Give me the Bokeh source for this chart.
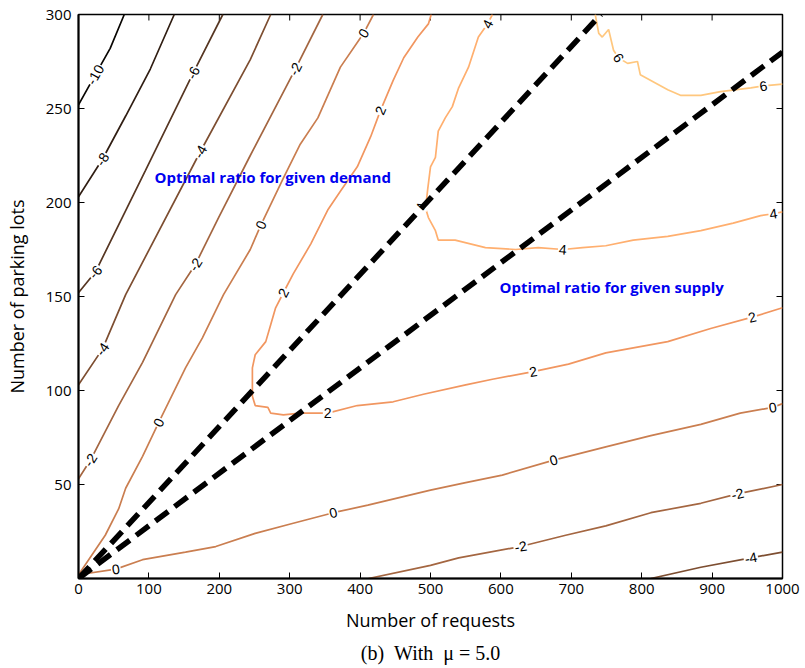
import math
from bokeh.plotting import figure
from bokeh.models import FixedTicker, Title, ColumnDataSource, Range1d
from bokeh.core.properties import value
from bokeh.embed import file_html
from bokeh.resources import INLINE

# ---------------- data ----------------
x_ticks = [0, 100, 200, 300, 400, 500, 600, 700, 800, 900, 1000]
y_ticks = [50, 100, 150, 200, 250, 300]

# contour lines (level, x = number of requests, y = number of parking lots)
m10_x = [0, 24, 45, 65]
m10_y = [252, 268, 282, 300]

m8_x = [0, 34, 67, 102, 136]
m8_y = [203, 223, 246, 271, 300]

m6_x = [0, 24, 95, 163, 205]
m6_y = [152, 163, 217, 269, 300]

m4a_x = [0, 34, 67, 173, 244, 273]
m4a_y = [103, 122, 151, 227, 276, 300]

m2a_x = [0, 17, 57, 91, 138, 166, 199, 244, 308, 347]
m2a_y = [53, 63, 92, 115, 151, 167, 192, 225, 271, 300]

z0a_x = [0, 38, 57, 67, 91, 114, 152, 176, 206, 244, 259, 291, 315, 340, 372, 405, 419]
z0a_y = [2, 23, 37, 48, 65, 83, 112, 128, 151, 175, 188, 213, 231, 245, 272, 290, 300]

p2_x = [501, 497, 482, 462, 447, 429, 415, 396, 372, 354, 330, 305, 291, 280, 273, 266, 251,
        247, 247, 251, 269, 273, 291, 315, 354, 396, 447, 490, 550, 588, 646, 696, 749, 837,
        898, 957, 1000]
p2_y = [300, 295, 288, 277, 265, 249, 235, 219, 206, 196, 178, 162, 152, 144, 135, 126, 119,
        112, 97, 92, 91, 88, 87, 88, 88, 92, 94, 98, 103, 106, 110, 114, 120, 126,
        133, 139, 144]

p4_x = [588, 581, 568, 554, 540, 531, 521, 511, 507, 500, 496, 493, 497, 507, 511, 535, 578,
        621, 653, 688, 716, 749, 788, 837, 884, 930, 969, 987, 1000]
p4_y = [300, 295, 288, 272, 261, 251, 245, 238, 224, 219, 207, 197, 192, 185, 180, 180, 176,
        175, 176, 175, 176, 177, 180, 182, 185, 189, 193, 194, 195]

p6_x = [734, 739, 744, 753, 760, 767, 780, 794, 798, 837, 855, 884, 912, 955, 973, 1000]
p6_y = [300, 290, 288, 292, 281, 277, 274, 275, 268, 260, 257, 257, 259, 261, 262, 263]

z0b_x = [0, 53, 91, 152, 195, 251, 301, 362, 411, 500, 550, 602, 675, 749, 813, 884, 940, 986, 1000]
z0b_y = [2, 5, 10, 14, 17, 24, 29, 35, 39, 47, 51, 55, 63, 70, 76, 82, 88, 91, 93]

m2b_x = [412, 500, 540, 628, 692, 749, 813, 884, 936, 1000]
m2b_y = [0, 7, 11, 17, 23, 28, 35, 40, 45, 50]

m4b_x = [813, 884, 955, 1000]
m4b_y = [0, 6, 11, 14]

contour_levels = [-10, -8, -6, -4, -2, 0, 2, 4, 6, 0, -2, -4]
contour_xs = [m10_x, m8_x, m6_x, m4a_x, m2a_x, z0a_x, p2_x, p4_x, p6_x, z0b_x, m2b_x, m4b_x]
contour_ys = [m10_y, m8_y, m6_y, m4a_y, m2a_y, z0a_y, p2_y, p4_y, p6_y, z0b_y, m2b_y, m4b_y]

# contour labels
lab_x = [24, 34, 163, 24, 173, 34, 308, 166, 17, 405, 259, 114, 429, 291, 354, 646, 957,
         581, 487, 688, 987, 767, 973, 53, 362, 675, 986, 628, 936, 955]
lab_y = [268, 223, 269, 163, 227, 122, 271, 167, 63, 290, 188, 83, 249, 152, 88, 110, 139,
         295, 198, 175, 194, 277, 262, 5, 35, 63, 91, 17, 45, 11]
lab_level = [-10, -8, -6, -6, -4, -4, -2, -2, -2, 0, 0, 0, 2, 2, 2, 2, 2,
             4, 4, 4, 4, 6, 6, 0, 0, 0, 0, -2, -2, -4]

# optimal ratio lines
demand_x = [0, 742]
demand_y = [0, 300]
supply_x = [0, 1000]
supply_y = [0, 280]

# ---------------- helpers ----------------
def copper(level):
    t = (level + 10.5) / 16.5
    t = max(0.0, min(1.0, t))
    r = min(1.0, 1.25 * t)
    g = 0.7812 * t
    b = 0.4975 * t
    return "#%02x%02x%02x" % (int(r * 255), int(g * 255), int(b * 255))

SX = 704 / 1000.0   # px per data unit (x)
SY = 564 / 300.0    # px per data unit (y)

def label_angle(lx, ly, level):
    best = None
    for lv, xs, ys in zip(contour_levels, contour_xs, contour_ys):
        if lv != level:
            continue
        for i in range(len(xs) - 1):
            ax, ay = xs[i] * SX, ys[i] * SY
            bx, by = xs[i + 1] * SX, ys[i + 1] * SY
            px, py = lx * SX, ly * SY
            dx, dy = bx - ax, by - ay
            L2 = dx * dx + dy * dy
            if L2 == 0:
                continue
            t = max(0.0, min(1.0, ((px - ax) * dx + (py - ay) * dy) / L2))
            d = math.hypot(ax + t * dx - px, ay + t * dy - py)
            if best is None or d < best[0]:
                best = (d, dx, dy)
    ang = math.atan2(best[2], best[1])
    if ang > math.pi / 2:
        ang -= math.pi
    if ang < -math.pi / 2:
        ang += math.pi
    return ang

# ---------------- figure ----------------
p = figure(width=805, height=668, x_range=Range1d(0, 1000), y_range=Range1d(0, 300),
           output_backend="svg", toolbar_location=None,
           min_border_left=78, min_border_right=23, min_border_top=14, min_border_bottom=90)
p.xgrid.visible = False
p.ygrid.visible = False
p.outline_line_color = "black"
p.outline_line_width = 1.5
p.background_fill_color = "white"
p.border_fill_color = "white"

for ax, tk in ((p.xaxis[0], x_ticks), (p.yaxis[0], y_ticks)):
    ax.ticker = FixedTicker(ticks=tk)
    ax.axis_line_width = 2
    ax.axis_line_color = "black"
    ax.major_tick_in = 6
    ax.major_tick_out = 0
    ax.major_tick_line_color = "black"
    ax.minor_tick_line_color = None
    ax.major_label_text_font = "Open Sans"
    ax.major_label_text_font_size = "15px"
    ax.major_label_text_color = "black"
    ax.axis_label_text_font = "Open Sans"
    ax.axis_label_text_font_size = "18px"
    ax.axis_label_text_font_style = "normal"
    ax.axis_label_text_color = "black"

p.xaxis.axis_label = "Number of requests"
p.yaxis.axis_label = "Number of parking lots"
p.xaxis.major_label_standoff = 5
p.xaxis.axis_label_standoff = 11
p.yaxis.major_label_standoff = 7
p.yaxis.axis_label_standoff = 14

# mirrored inward ticks on the top and right frame edges
p.ray(x=x_ticks, y=[300] * len(x_ticks), length=6, length_units="screen",
      angle=-math.pi / 2, line_color="black", line_width=1)
p.ray(x=[1000] * len(y_ticks), y=y_ticks, length=6, length_units="screen",
      angle=math.pi, line_color="black", line_width=1)

# contour lines
for lv, xs, ys in zip(contour_levels, contour_xs, contour_ys):
    p.line(xs, ys, line_color=copper(lv), line_width=1.7)

# contour labels
angles = [label_angle(x, y, l) for x, y, l in zip(lab_x, lab_y, lab_level)]
src = ColumnDataSource(dict(x=lab_x, y=lab_y, t=[str(l) for l in lab_level], a=angles))
p.text(x="x", y="y", text="t", angle="a", source=src,
       text_font=value("Liberation Sans"), text_font_size="14px", text_color="black",
       text_align="center", text_baseline="middle",
       background_fill_color="white", padding=1)

# optimal ratio lines
p.line(demand_x, demand_y, line_color="black", line_width=5.5, line_dash="16 8")
p.line(supply_x, supply_y, line_color="black", line_width=5.5, line_dash="16 8")

# annotations
p.text(x=[108], y=[213.3], text=["Optimal ratio for given demand"],
       text_font=value("Open Sans"), text_font_size="15px", text_font_style="bold",
       text_color="#0000f0", text_align="left", text_baseline="middle")
p.text(x=[598], y=[154.8], text=["Optimal ratio for given supply"],
       text_font=value("Open Sans"), text_font_size="15px", text_font_style="bold",
       text_color="#0000f0", text_align="left", text_baseline="middle")

caption = Title(text="(b)\u00a0\u00a0With\u00a0\u00a0\u03bc\u00a0=\u00a05.0", align="center",
                text_font="Liberation Serif", text_font_size="20px",
                text_font_style="normal", text_color="black", standoff=10)
p.add_layout(caption, "below")

open("out.html", "w").write(file_html(p, INLINE))
